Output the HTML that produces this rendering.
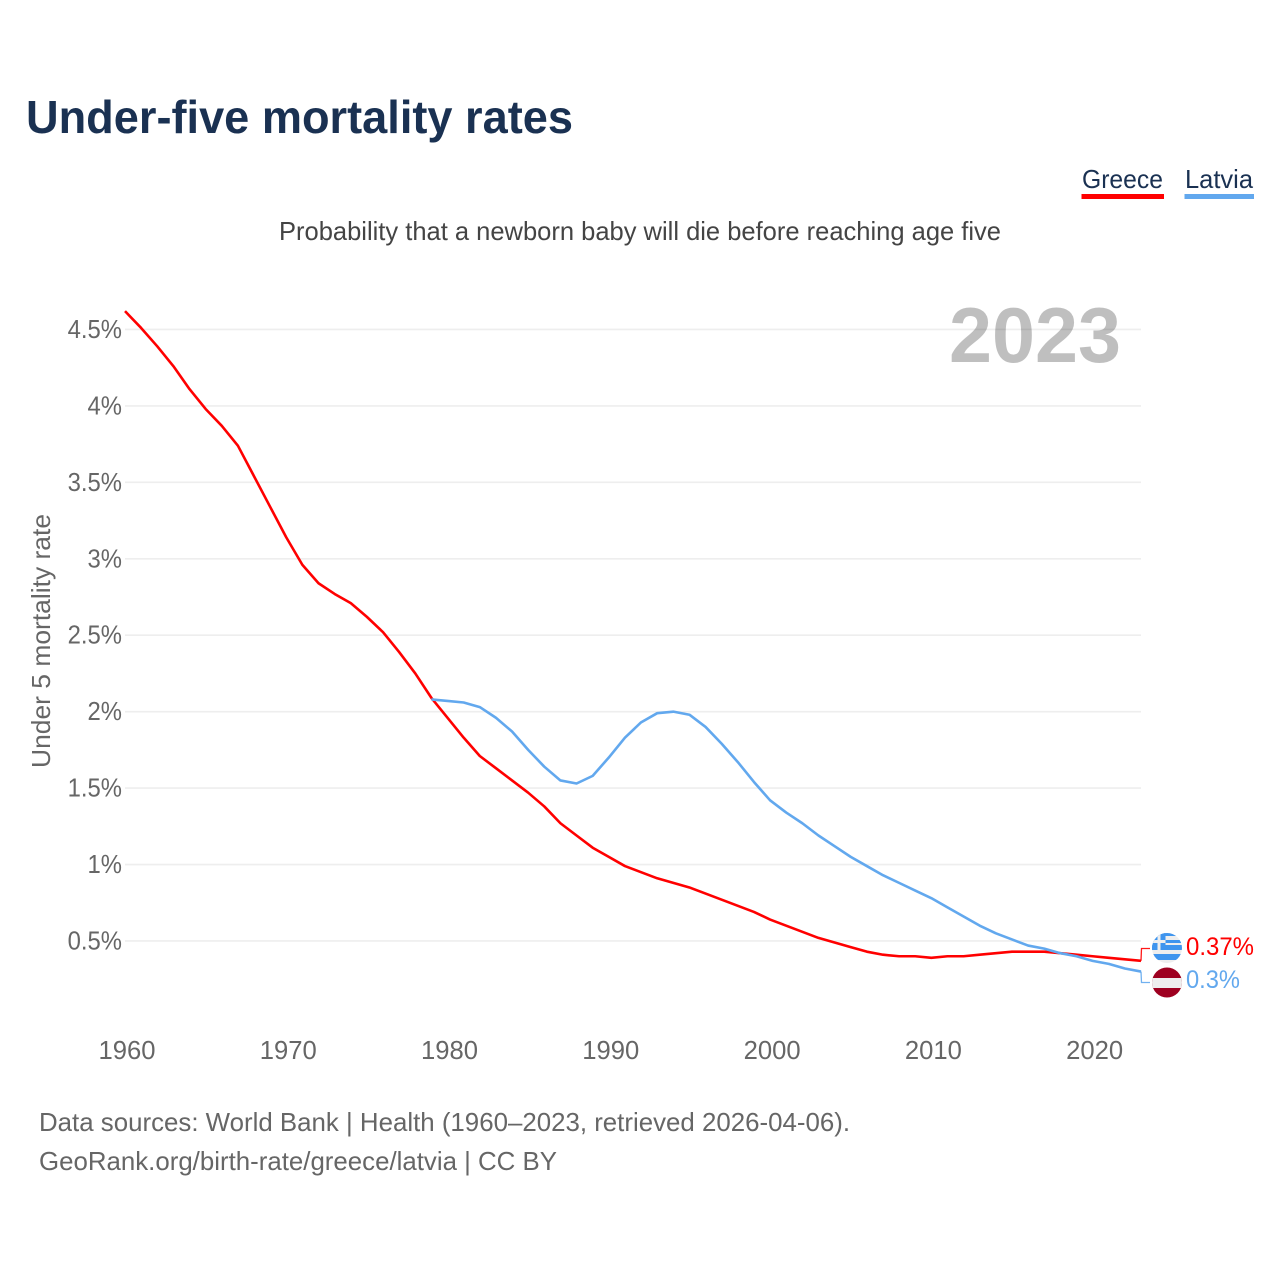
<!DOCTYPE html>
<html lang="en">
<head>
<meta charset="utf-8">
<title>Under-five mortality rates</title>
<style>
html,body{margin:0;padding:0;background:#fff;width:1280px;height:1280px;overflow:hidden}
svg{display:block;font-family:"Liberation Sans",sans-serif}
</style>
</head>
<body>
<svg id="chart" width="1280" height="1280" viewBox="0 0 1280 1280">
  <defs>
    <clipPath id="greece-clip"><circle cx="1167" cy="948" r="15"/></clipPath>
    <clipPath id="latvia-clip"><circle cx="1167" cy="982.5" r="15"/></clipPath>
  </defs>
  <text x="26" y="133" font-size="46" font-weight="700" fill="#1a3152" textLength="547" lengthAdjust="spacingAndGlyphs">Under-five mortality rates</text>

  <g>
    <text x="1082" y="188" font-size="26" fill="#1a3152" textLength="81" lengthAdjust="spacingAndGlyphs">Greece</text>
    <rect x="1081.5" y="194" width="82.5" height="5" fill="#ff0000"/>
  </g>
  <g>
    <text x="1185" y="188" font-size="26" fill="#1a3152" textLength="68" lengthAdjust="spacingAndGlyphs">Latvia</text>
    <rect x="1184.5" y="194" width="69.5" height="5" fill="#62a8ee"/>
  </g>

  <text x="279" y="240" font-size="26" fill="#444444" textLength="722" lengthAdjust="spacingAndGlyphs">Probability that a newborn baby will die before reaching age five</text>

  <g id="grid"></g>

  <text x="1121" y="362" text-anchor="end" font-size="78" font-weight="700" fill="#000000" fill-opacity="0.25" textLength="172" lengthAdjust="spacingAndGlyphs">2023</text>

  <text transform="translate(50,641) rotate(-90)" text-anchor="middle" font-size="26" fill="#666666" textLength="254" lengthAdjust="spacingAndGlyphs">Under 5 mortality rate</text>

  <g id="y-labels"></g>
  <g id="x-labels"></g>
  <g id="series"></g>

  <g clip-path="url(#greece-clip)">
    <rect x="1152" y="933" width="30" height="30" fill="#eeeeee"/>
    <rect x="1152" y="933" width="30" height="3" fill="#3f95ee"/>
    <rect x="1152" y="940" width="30" height="3" fill="#3f95ee"/>
    <rect x="1152" y="945" width="30" height="5" fill="#3f95ee"/>
    <rect x="1152" y="954" width="30" height="6" fill="#3f95ee"/>
    <rect x="1152" y="933" width="13.5" height="17" fill="#3f95ee"/>
    <rect x="1152" y="940" width="13.5" height="3" fill="#eeeeee"/>
    <rect x="1157.5" y="933" width="3" height="17" fill="#eeeeee"/>
  </g>
  <g clip-path="url(#latvia-clip)">
    <rect x="1152" y="967.5" width="30" height="30" fill="#9e0020"/>
    <rect x="1152" y="978" width="30" height="10" fill="#eeeeee"/>
  </g>

  <text x="1186" y="955" font-size="25" fill="#ff0000" textLength="68" lengthAdjust="spacingAndGlyphs">0.37%</text>
  <text x="1186" y="988" font-size="25" fill="#62a8ee" textLength="54" lengthAdjust="spacingAndGlyphs">0.3%</text>

  <text x="39" y="1131" font-size="26" fill="#666666" textLength="811" lengthAdjust="spacingAndGlyphs">Data sources: World Bank | Health (1960–2023, retrieved 2026-04-06).</text>
  <text x="39" y="1170" font-size="26" fill="#666666" textLength="518" lengthAdjust="spacingAndGlyphs">GeoRank.org/birth-rate/greece/latvia | CC BY</text>
</svg>
<script>
const yTickValues = [0.5, 1, 1.5, 2, 2.5, 3, 3.5, 4, 4.5];
const yTickLabels = ['0.5%', '1%', '1.5%', '2%', '2.5%', '3%', '3.5%', '4%', '4.5%'];
const xTickYears = [1960, 1970, 1980, 1990, 2000, 2010, 2020];
const xTickLabels = ['1960', '1970', '1980', '1990', '2000', '2010', '2020'];
const greeceStartYear = 1960;
const greeceValues = [4.62, 4.51, 4.39, 4.26, 4.11, 3.98, 3.87, 3.74, 3.54, 3.34,
  3.14, 2.96, 2.84, 2.77, 2.71, 2.62, 2.52, 2.39, 2.25, 2.09,
  1.96, 1.83, 1.71, 1.63, 1.55, 1.47, 1.38, 1.27, 1.19, 1.11,
  1.05, 0.99, 0.95, 0.91, 0.88, 0.85, 0.81, 0.77, 0.73, 0.69,
  0.64, 0.60, 0.56, 0.52, 0.49, 0.46, 0.43, 0.41, 0.40, 0.40,
  0.39, 0.40, 0.40, 0.41, 0.42, 0.43, 0.43, 0.43, 0.42, 0.41,
  0.40, 0.39, 0.38, 0.37];
const latviaStartYear = 1979;
const latviaValues = [2.08, 2.07, 2.06, 2.03, 1.96, 1.87, 1.75, 1.64, 1.55, 1.53,
  1.58, 1.70, 1.83, 1.93, 1.99, 2.00, 1.98, 1.90, 1.79, 1.67,
  1.54, 1.42, 1.34, 1.27, 1.19, 1.12, 1.05, 0.99, 0.93, 0.88,
  0.83, 0.78, 0.72, 0.66, 0.60, 0.55, 0.51, 0.47, 0.45, 0.42,
  0.40, 0.37, 0.35, 0.32, 0.30];
const seriesColors = { greece: '#ff0000', latvia: '#62a8ee' };

const NS = 'http://www.w3.org/2000/svg';
function xScale(year) { return 125 + (year - 1960) * (1016 / 63); }
function yScale(v) { return 1017.4 - v * 152.87; }
function make(tag, attrs, parent) {
  const el = document.createElementNS(NS, tag);
  for (const k in attrs) el.setAttribute(k, attrs[k]);
  parent.appendChild(el);
  return el;
}
function narrow(t, factor) {
  t.setAttribute('textLength', (t.getComputedTextLength() * factor).toFixed(2));
  t.setAttribute('lengthAdjust', 'spacingAndGlyphs');
}

const grid = document.getElementById('grid');
const yLabels = document.getElementById('y-labels');
yTickValues.forEach(function (v, i) {
  const line = make('line', { x1: 125, x2: 1141, y1: yScale(v), y2: yScale(v), stroke: '#eeeeee', 'stroke-width': 1.6 }, grid);
  
  
  const t = make('text', { x: 122, y: yScale(v) + 8.5, 'text-anchor': 'end', 'font-size': 25.5, fill: '#666666' }, yLabels);
  t.textContent = yTickLabels[i];
  
  
  narrow(t, 0.935);
});

const xLabels = document.getElementById('x-labels');
xTickYears.forEach(function (year, i) {
  const t = make('text', { x: xScale(year) + 2, y: 1059, 'text-anchor': 'middle', 'font-size': 26, fill: '#666666', textLength: 57, lengthAdjust: 'spacingAndGlyphs' }, xLabels);
  t.textContent = xTickLabels[i];
  
  
});

function linePoints(startYear, values) {
  return values.map(function (v, i) {
    return xScale(startYear + i).toFixed(2) + ',' + yScale(v).toFixed(2);
  }).join(' ');
}
const seriesGroup = document.getElementById('series');

const connectorGreece = make('polyline', {
  points: xScale(2023) + ',' + yScale(greeceValues[greeceValues.length - 1]) + ' ' + (xScale(2023) + 0.5) + ',948.5 1150,948.5',
  fill: 'none', stroke: seriesColors.greece, 'stroke-width': 1.3, opacity: 0.9
}, seriesGroup);



const connectorLatvia = make('polyline', {
  points: xScale(2023) + ',' + yScale(latviaValues[latviaValues.length - 1]) + ' ' + (xScale(2023) + 0.5) + ',982.5 1150,982.5',
  fill: 'none', stroke: seriesColors.latvia, 'stroke-width': 1.3, opacity: 0.9
}, seriesGroup);



const lineGreece = make('polyline', {
  points: linePoints(greeceStartYear, greeceValues),
  fill: 'none', stroke: seriesColors.greece, 'stroke-width': 2.6, 'stroke-linejoin': 'round'
}, seriesGroup);



const lineLatvia = make('polyline', {
  points: linePoints(latviaStartYear, latviaValues),
  fill: 'none', stroke: seriesColors.latvia, 'stroke-width': 2.6, 'stroke-linejoin': 'round'
}, seriesGroup);


</script>
</body>
</html>
